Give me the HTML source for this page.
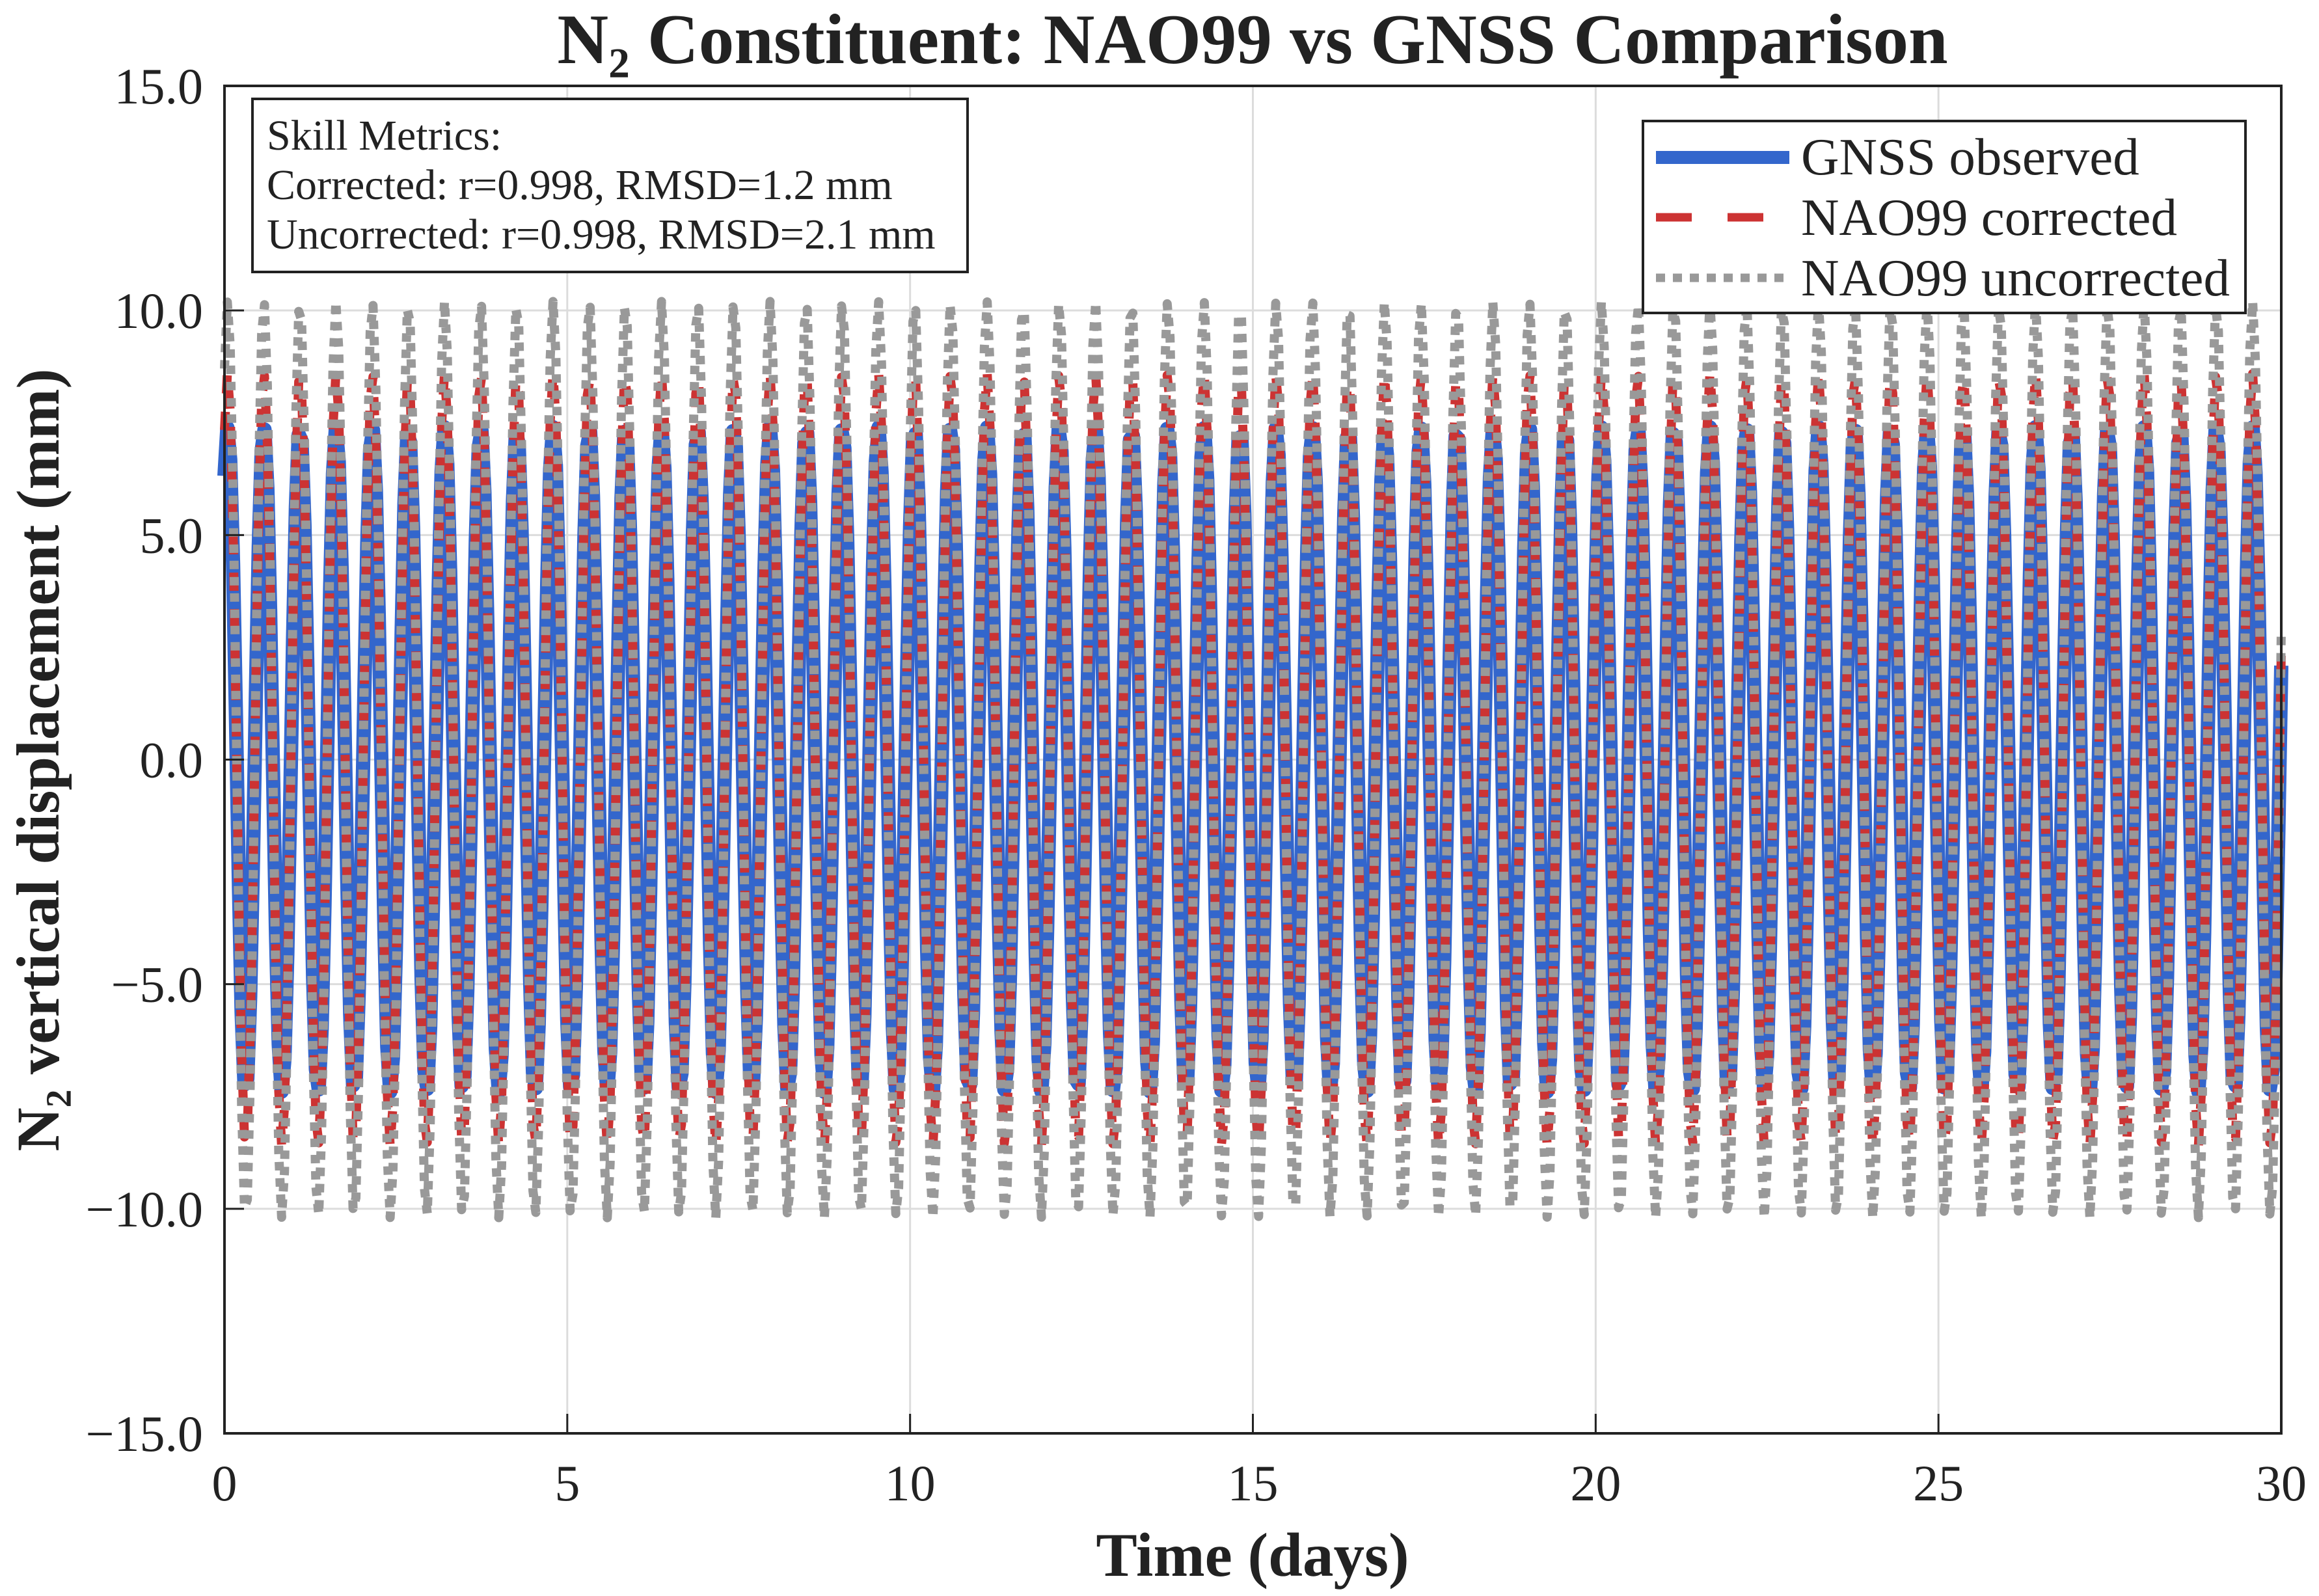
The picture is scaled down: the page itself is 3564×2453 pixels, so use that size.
<!DOCTYPE html>
<html><head><meta charset="utf-8"><style>
html,body{margin:0;padding:0;background:#fff;}
svg{display:block;font-family:"Liberation Serif",serif;}
</style></head><body>
<svg id="chart" width="3564" height="2453" viewBox="0 0 3564 2453" xmlns="http://www.w3.org/2000/svg">
<rect width="3564" height="2453" fill="#fff"/>
<g id="grid"></g>
<g id="series"></g>
<rect x="345" y="132" width="3161" height="2071" fill="none" stroke="#222" stroke-width="4"/>
<g id="ticks"></g>
<text x="1925" y="97" text-anchor="middle" font-size="109" font-weight="bold" fill="#222">N₂ Constituent: NAO99 vs GNSS Comparison</text>
<text x="1925" y="2422" text-anchor="middle" font-size="95" font-weight="bold" fill="#222">Time (days)</text>
<text transform="translate(90,1168) rotate(-90)" text-anchor="middle" font-size="93" font-weight="bold" fill="#222">N₂ vertical displacement (mm)</text>
<g>
<rect x="388" y="152" width="1099" height="266" fill="#fff" stroke="#222" stroke-width="4"/>
<text x="410" y="230" font-size="66" fill="#222">Skill Metrics:</text>
<text x="410" y="306" font-size="66" fill="#222">Corrected: r=0.998, RMSD=1.2 mm</text>
<text x="410" y="382" font-size="66" fill="#222">Uncorrected: r=0.998, RMSD=2.1 mm</text>
</g>
<g>
<rect x="2525" y="186" width="926" height="295" fill="#fff" stroke="#222" stroke-width="4"/>
<g>
<line x1="2545" y1="242" x2="2750" y2="242" stroke="#3366cc" stroke-width="20"/>
<text x="2768" y="268" font-size="81" fill="#222">GNSS observed</text></g>
<g>
<line x1="2545" y1="334" x2="2710" y2="334" stroke="#cc3333" stroke-width="13" stroke-dasharray="55,55"/>
<text x="2768" y="361" font-size="81" fill="#222">NAO99 corrected</text></g>
<g>
<line x1="2545" y1="427" x2="2750" y2="427" stroke="#999" stroke-width="13" stroke-dasharray="14,12"/>
<text x="2768" y="454" font-size="81" fill="#222">NAO99 uncorrected</text></g>
</g>
</svg>
<script>
const xTicks = [0, 5, 10, 15, 20, 25, 30];
const yTicks = [-15, -10, -5, 0, 5, 10, 15];
const yTickLabels = ["\u221215.0", "\u221210.0", "\u22125.0", "0.0", "5.0", "10.0", "15.0"];
const seriesNames = ["GNSS observed", "NAO99 corrected", "NAO99 uncorrected"];
const amplitudes = [7.4, 8.6, 10.2];
const peakTimes = [0.046, 0.046, 0.046];
const periodDays = 0.5274;
const sampleStepDays = 1/24;
const L=345,R=3506,T=132,B=2203;
const X=v=>L+(v-0)/(30-0)*(R-L);
const Y=v=>B-(v+15)/30*(B-T);
const NS="http://www.w3.org/2000/svg";
const grid=document.getElementById('grid'),ticks=document.getElementById('ticks'),ser=document.getElementById('series');
function mk(tag,attrs,parent){const e=document.createElementNS(NS,tag);for(const k in attrs)e.setAttribute(k,attrs[k]);parent.appendChild(e);return e;}
xTicks.forEach(v=>{
  const g=mk('line',{x1:X(v),x2:X(v),y1:T,y2:B,stroke:'#dcdcdc','stroke-width':3},grid);
  
  
  const t=mk('line',{x1:X(v),x2:X(v),y1:B,y2:B-30,stroke:'#222','stroke-width':3},ticks);
  
  
  const l=mk('text',{x:X(v),y:2306,'text-anchor':'middle','font-size':78,fill:'#222'},ticks);
  l.textContent=v;
  
  
});
yTicks.forEach((v,i)=>{
  const g=mk('line',{x1:L,x2:R,y1:Y(v),y2:Y(v),stroke:'#dcdcdc','stroke-width':3},grid);
  
  
  const t=mk('line',{x1:L,x2:L+30,y1:Y(v),y2:Y(v),stroke:'#222','stroke-width':3},ticks);
  
  
  const l=mk('text',{x:312,y:Y(v)+27,'text-anchor':'end','font-size':78,fill:'#222'},ticks);
  l.textContent=yTickLabels[i];
  
  
});
const styles=[{stroke:'#3366cc',w:22,d:''},{stroke:'#cc3333',w:14,d:'28,28'},{stroke:'#999999',w:14,d:'13,12'}];
const seriesKeys=['gnss-observed-line','nao99-corrected-line','nao99-uncorrected-line'];
amplitudes.forEach((A,s)=>{
  let pts=[];
  for(let t=0;t<=30+1e-9;t+=sampleStepDays){
    const v=A*Math.cos(2*Math.PI*(t-peakTimes[s])/periodDays);
    pts.push(X(t).toFixed(1)+','+Y(v).toFixed(1));
  }
  const p=mk('polyline',{points:pts.join(' '),fill:'none',stroke:styles[s].stroke,'stroke-width':styles[s].w,'stroke-linejoin':'round'},ser);
  if(styles[s].d)p.setAttribute('stroke-dasharray',styles[s].d);
  
  
});
</script>
</body></html>
